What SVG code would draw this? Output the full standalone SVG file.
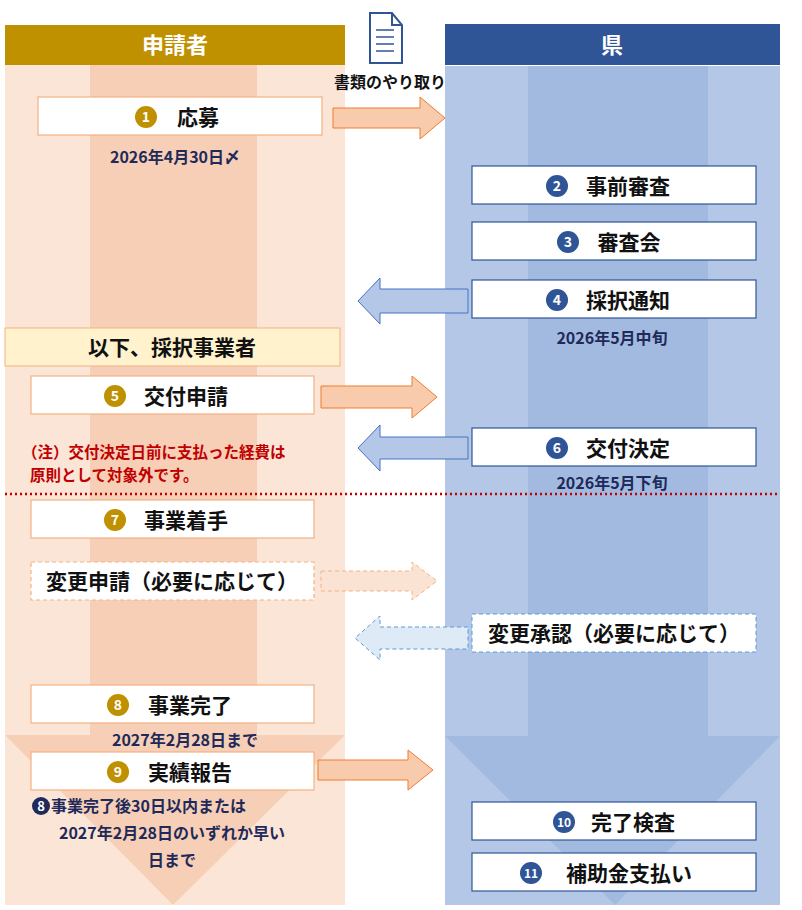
<svg xmlns="http://www.w3.org/2000/svg" width="802" height="910" viewBox="0 0 802 910">
<style>
text{font-family:"Noto Sans CJK JP","Noto Sans",sans-serif;font-weight:bold}
.t{font-size:21px;fill:#111;text-anchor:middle}
.lb{fill:#fff;stroke:#F4B183;stroke-width:1.2}
.rb{fill:#fff;stroke:#2F5597;stroke-width:1.2}
.d{font-size:16px;fill:#1F2A5A;text-anchor:middle}
.oa{fill:#F8CBAD;stroke:#ED7D31;stroke-width:1}
.ba{fill:#B4C7E7;stroke:#4472C4;stroke-width:1}
.dash{stroke-dasharray:4 3}
.n{font-size:14px;fill:#fff;text-anchor:middle}
</style>
<rect width="802" height="910" fill="#fff"/>
<g id="lanes">
<rect x="5" y="65" width="340" height="840" fill="#FBE5D6"/>
<rect x="90" y="65" width="167" height="670" fill="#F6CFB6"/>
<polygon points="5,735 345,735 173,905" fill="#F6CFB6"/>
<rect x="445" y="66" width="335" height="839" fill="#B4C7E7"/>
<rect x="528" y="66" width="180" height="670" fill="#A3BAE0"/>
<polygon points="445,736 780,736 615,905" fill="#A3BAE0"/>
<rect x="5" y="25" width="340" height="40" fill="#BF9000"/>
<text x="175" y="53" font-size="22" fill="#fff" text-anchor="middle">申請者</text>
<rect x="445" y="24" width="335" height="41" fill="#2F5597"/>
<text x="612" y="53" font-size="22" fill="#fff" text-anchor="middle">県</text>
</g>
<g id="doc" fill="none" stroke="#2F5597" stroke-width="2">
<path d="M370,13 H392 L402,25 V63 H370 Z M392,13 V25 H402"/>
<path d="M376,30 H394 M376,37 H394 M376,44 H394 M376,51 H394" stroke-width="1.3"/>
</g>
<text x="390" y="88" font-size="16" text-anchor="middle" fill="#111">書類のやり取り</text>
<g id="connectors">
<polygon class="oa" points="333,108 420,108 420,97 445,118 420,139 420,128 333,128"/>
<polygon class="ba" points="468,289 380,289 380,278 358,301 380,324 380,313 468,313"/>
<polygon class="oa" points="321,386 412,386 412,376 437,397 412,418 412,408 321,408"/>
<polygon class="ba" points="468,437 380,437 380,425 358,448 380,471 380,459 468,459"/>
<polygon class="dash" points="321,571 412,571 412,562 437,581 412,600 412,591 321,591" style="fill:#FBE3D4;stroke:#F4B183"/>
<polygon class="dash" points="468,627 380,627 380,616 355,638 380,660 380,649 468,649" style="fill:#DEEBF7;stroke:#5B9BD5"/>
<polygon class="oa" points="318,760 408,760 408,750 433,770 408,790 408,780 318,780"/>
<line x1="5" y1="494" x2="780" y2="494" stroke="#C00000" stroke-width="2.5" stroke-dasharray="2 3"/>
</g>
<g id="n1"><rect class="lb" x="38" y="97" width="284" height="38"/><circle cx="146" cy="117" r="11" fill="#BF9000"/><text class="n" x="146" y="122">1</text><text class="t" x="198" y="125">応募</text></g>
<text class="d" x="175" y="163">2026年4月30日〆</text>
<g id="n2"><rect class="rb" x="472" y="166" width="284" height="38"/><circle cx="557" cy="186" r="11" fill="#2F5597"/><text class="n" x="557" y="191">2</text><text class="t" x="628" y="194">事前審査</text></g>
<g id="n3"><rect class="rb" x="472" y="222" width="284" height="38"/><circle cx="568" cy="242" r="11" fill="#2F5597"/><text class="n" x="568" y="247">3</text><text class="t" x="629" y="250">審査会</text></g>
<g id="n4"><rect class="rb" x="472" y="280" width="284" height="38"/><circle cx="557" cy="300" r="11" fill="#2F5597"/><text class="n" x="557" y="305">4</text><text class="t" x="628" y="308">採択通知</text></g>
<text class="d" x="612" y="344">2026年5月中旬</text>
<g id="sel"><rect x="5" y="328" width="335" height="38" fill="#FFF2CC" stroke="#F4B183"/><text class="t" x="172" y="355">以下、採択事業者</text></g>
<g id="n5"><rect class="lb" x="31" y="376" width="283" height="38"/><circle cx="115" cy="396" r="11" fill="#BF9000"/><text class="n" x="115" y="401">5</text><text class="t" x="186" y="404">交付申請</text></g>
<text x="22" y="458" font-size="15.5" fill="#C00000">（注）交付決定日前に支払った経費は</text>
<text x="30" y="481" font-size="15.5" fill="#C00000">原則として対象外です。</text>
<g id="n6"><rect class="rb" x="472" y="428" width="284" height="38"/><circle cx="557" cy="448" r="11" fill="#2F5597"/><text class="n" x="557" y="453">6</text><text class="t" x="628" y="456">交付決定</text></g>
<text class="d" x="612" y="489">2026年5月下旬</text>
<g id="n7"><rect class="lb" x="31" y="500" width="283" height="38"/><circle cx="115" cy="520" r="11" fill="#BF9000"/><text class="n" x="115" y="525">7</text><text class="t" x="186" y="528">事業着手</text></g>
<g id="nchg"><rect class="lb dash" x="31" y="562" width="283" height="38"/><text class="t" x="172" y="589">変更申請（必要に応じて）</text></g>
<g id="napp"><rect class="dash" x="472" y="614" width="284" height="38" style="fill:#fff;stroke:#5B9BD5"/><text class="t" x="614" y="641">変更承認（必要に応じて）</text></g>
<g id="n8"><rect class="lb" x="31" y="685" width="283" height="38"/><circle cx="118" cy="705" r="11" fill="#BF9000"/><text class="n" x="118" y="710">8</text><text class="t" x="190" y="713">事業完了</text></g>
<text class="d" x="185" y="746">2027年2月28日まで</text>
<g id="n9"><rect class="lb" x="31" y="752" width="283" height="38"/><circle cx="118" cy="772" r="11" fill="#BF9000"/><text class="n" x="118" y="777">9</text><text class="t" x="190" y="780">実績報告</text></g>
<g id="n9note"><circle cx="41" cy="806" r="9" fill="#1F2A5A"/><text x="41" y="811" font-size="13" fill="#fff" text-anchor="middle">8</text><text x="51" y="812" font-size="16" fill="#1F2A5A" font-weight="bold">事業完了後30日以内または</text>
<text class="d" x="172" y="839">2027年2月28日のいずれか早い</text><text class="d" x="172" y="866">日まで</text></g>
<g id="n10"><rect class="rb" x="472" y="802" width="284" height="38"/><circle cx="564" cy="822" r="11" fill="#2F5597"/><text x="564" y="827" font-size="12" fill="#fff" text-anchor="middle">10</text><text class="t" x="633" y="830">完了検査</text></g>
<g id="n11"><rect class="rb" x="472" y="853" width="284" height="38"/><circle cx="531" cy="873" r="11" fill="#2F5597"/><text x="531" y="878" font-size="12" fill="#fff" text-anchor="middle">11</text><text class="t" x="629" y="881">補助金支払い</text></g>
</svg>
